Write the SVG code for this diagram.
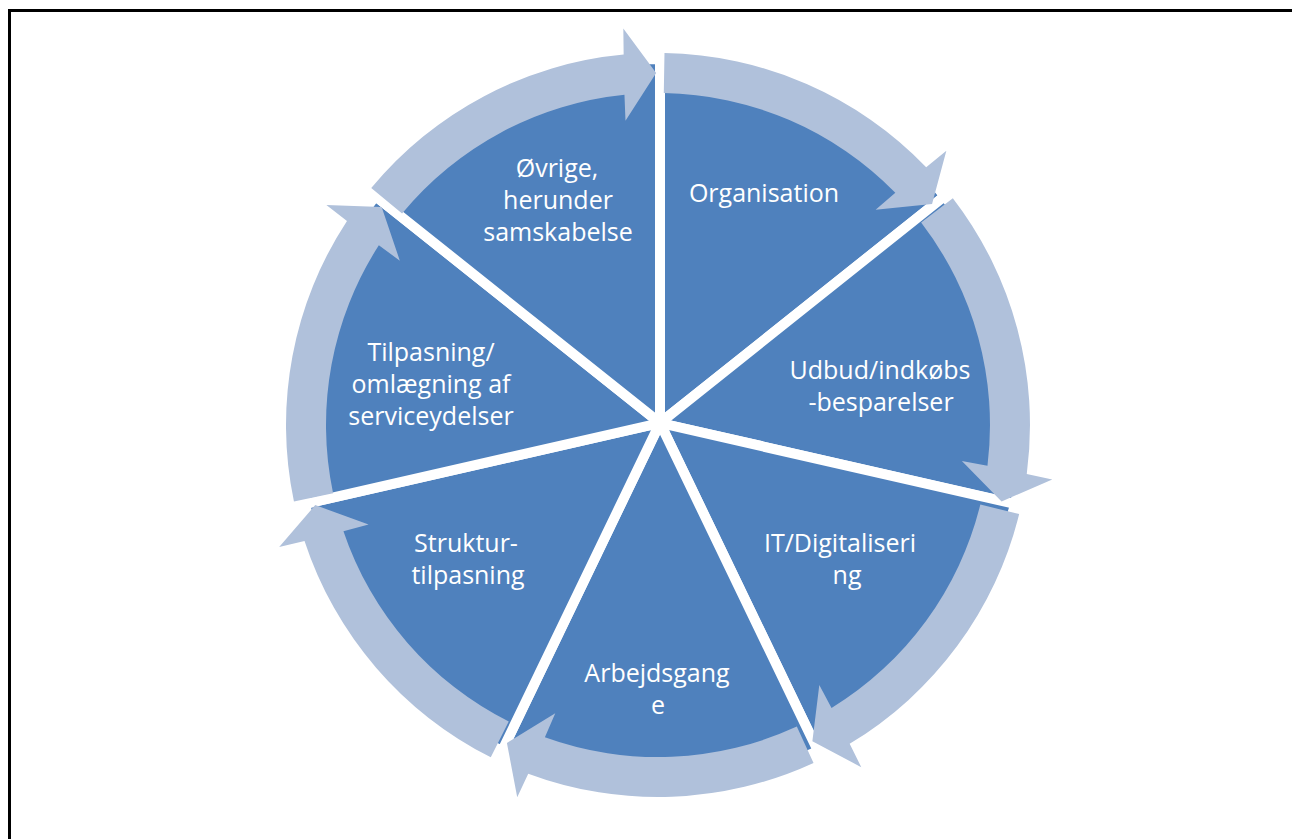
<svg xmlns="http://www.w3.org/2000/svg" width="1292" height="839" viewBox="0 0 1292 839">
<defs>
<style>
.slice{fill:#4F81BD;stroke:#fff;stroke-width:10;stroke-linejoin:round}
.lbl{font-family:"Open Sans","Liberation Sans",sans-serif;font-size:25px;fill:#fff;text-anchor:middle}
.arr{fill:#B0C1DB}
</style>
<path id="slice" d="M0,0 L364,0 A364,364 0 0 1 226.95,284.59 Z"/>
<path id="arrow" d="M331.95,5.79 L371.94,6.49 A372,372 0 0 1 257.80,268.18 L274.32,288.36 L220.90,274.06 L215.13,217.62 L232.16,237.33 A332,332 0 0 0 331.95,5.79 Z"/>
</defs>
<rect width="1292" height="839" fill="#fff"/>
<path d="M9.5,839 V10.5 H1292" fill="none" stroke="#000" stroke-width="3"/>
<g id="node-organisation">
<use href="#slice" class="slice" transform="translate(660,423) rotate(-90)"/>
<text class="lbl" x="764" y="202">Organisation</text>
</g>
<g id="node-udbud">
<use href="#slice" class="slice" transform="translate(660,423) rotate(-38.5714)"/>
<text class="lbl" x="880" y="379">Udbud/indkøbs</text>
<text class="lbl" x="881" y="411">-besparelser</text>
</g>
<g id="node-it">
<use href="#slice" class="slice" transform="translate(660,423) rotate(12.8571)"/>
<text class="lbl" x="840" y="552">IT/Digitaliseri</text>
<text class="lbl" x="847" y="584">ng</text>
</g>
<g id="node-arbejdsgange">
<use href="#slice" class="slice" transform="translate(660,423) rotate(64.2857)"/>
<text class="lbl" x="657" y="682">Arbejdsgang</text>
<text class="lbl" x="658" y="714">e</text>
</g>
<g id="node-struktur">
<use href="#slice" class="slice" transform="translate(660,423) rotate(115.7143)"/>
<text class="lbl" x="466" y="552">Struktur-</text>
<text class="lbl" x="468" y="584">tilpasning</text>
</g>
<g id="node-tilpasning">
<use href="#slice" class="slice" transform="translate(660,423) rotate(167.1429)"/>
<text class="lbl" x="431" y="361">Tilpasning/</text>
<text class="lbl" x="431" y="393">omlægning af</text>
<text class="lbl" x="431" y="425">serviceydelser</text>
</g>
<g id="node-ovrige">
<use href="#slice" class="slice" transform="translate(660,423) rotate(218.5714)"/>
<text class="lbl" x="557" y="177">Øvrige,</text>
<text class="lbl" x="558" y="209">herunder</text>
<text class="lbl" x="558" y="241">samskabelse</text>
</g>
<g id="connectors">
<use href="#arrow" class="arr" transform="translate(658,425) rotate(-90)"/>
<use href="#arrow" class="arr" transform="translate(658,425) rotate(-38.5714)"/>
<use href="#arrow" class="arr" transform="translate(658,425) rotate(12.8571)"/>
<use href="#arrow" class="arr" transform="translate(658,425) rotate(64.2857)"/>
<use href="#arrow" class="arr" transform="translate(658,425) rotate(115.7143)"/>
<use href="#arrow" class="arr" transform="translate(658,425) rotate(167.1429)"/>
<use href="#arrow" class="arr" transform="translate(658,425) rotate(218.5714)"/>
</g>
</svg>
